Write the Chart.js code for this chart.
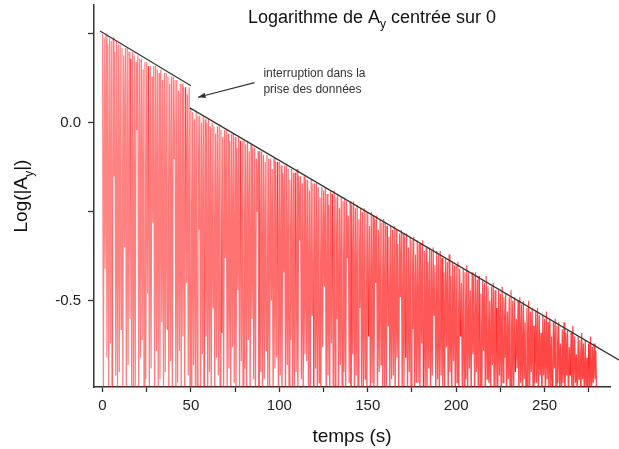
<!DOCTYPE html>
<html>
<head>
<meta charset="utf-8">
<script src="https://cdn.jsdelivr.net/npm/chart.js@4.4.1/dist/chart.umd.min.js"></script>
<style>
  body { margin: 0; background: #fff; }
  #box { width: 619px; height: 449px; position: relative; }
</style>
</head>
<body>
<div id="box"><canvas id="logChart"></canvas></div>
<script>
// sampling: one peak per second, the trough half a second later
const pasTemps = 1;

// log|Ay| at the top of each oscillation
const pics = [
  0.25, 0.24, 0.25, 0.22, 0.24, 0.23, 0.24, 0.20, 0.23, 0.22,
  0.22, 0.21, 0.19, 0.21, 0.21, 0.20, 0.18, 0.20, 0.19, 0.17,
  0.19, 0.18, 0.18, 0.15, 0.17, 0.17, 0.16, 0.16, 0.13, 0.16,
  0.16, 0.15, 0.14, 0.15, 0.12, 0.14, 0.14, 0.13, 0.11, 0.13,
  0.13, 0.12, 0.12, 0.09, 0.11, 0.11, 0.10, 0.10, 0.08, 0.10,
  0.04, 0.03, 0.01, 0.03, 0.02, 0.02, 0.00, 0.02, 0.01, 0.00,
  0.01, -0.01, 0.00, -0.01, -0.03, -0.01, -0.01, -0.02, -0.04, -0.02,
  -0.02, -0.03, -0.05, -0.03, -0.03, -0.04, -0.07, -0.04, -0.05, -0.05,
  -0.05, -0.06, -0.05, -0.08, -0.06, -0.07, -0.07, -0.10, -0.08, -0.08,
  -0.08, -0.09, -0.11, -0.09, -0.10, -0.10, -0.13, -0.10, -0.11, -0.11,
  -0.11, -0.12, -0.14, -0.12, -0.12, -0.13, -0.16, -0.13, -0.14, -0.14,
  -0.13, -0.15, -0.15, -0.17, -0.15, -0.16, -0.16, -0.19, -0.16, -0.17,
  -0.17, -0.17, -0.18, -0.21, -0.18, -0.19, -0.18, -0.20, -0.23, -0.19,
  -0.20, -0.19, -0.21, -0.20, -0.24, -0.21, -0.22, -0.21, -0.22, -0.26,
  -0.22, -0.23, -0.22, -0.24, -0.23, -0.27, -0.24, -0.25, -0.24, -0.25,
  -0.25, -0.29, -0.25, -0.26, -0.27, -0.26, -0.30, -0.27, -0.28, -0.27,
  -0.28, -0.29, -0.32, -0.29, -0.30, -0.29, -0.30, -0.34, -0.31, -0.30,
  -0.31, -0.32, -0.31, -0.35, -0.32, -0.33, -0.32, -0.37, -0.33, -0.34,
  -0.34, -0.33, -0.36, -0.35, -0.39, -0.35, -0.36, -0.35, -0.40, -0.36,
  -0.37, -0.36, -0.38, -0.42, -0.38, -0.39, -0.37, -0.43, -0.39, -0.40,
  -0.40, -0.39, -0.41, -0.45, -0.41, -0.42, -0.40, -0.42, -0.47, -0.42,
  -0.43, -0.42, -0.44, -0.43, -0.48, -0.44, -0.45, -0.43, -0.46, -0.50,
  -0.46, -0.45, -0.47, -0.52, -0.47, -0.48, -0.46, -0.49, -0.48, -0.53,
  -0.49, -0.47, -0.50, -0.49, -0.55, -0.50, -0.49, -0.51, -0.50, -0.56,
  -0.52, -0.50, -0.53, -0.52, -0.57, -0.53, -0.52, -0.54, -0.59, -0.54,
  -0.55, -0.53, -0.56, -0.55, -0.60, -0.56, -0.55, -0.57, -0.56, -0.62,
  -0.58, -0.56, -0.59, -0.58, -0.63, -0.59, -0.57, -0.60, -0.65, -0.60,
  -0.61, -0.59, -0.62, -0.61, -0.66, -0.62, -0.60, -0.63, -0.62, -0.64
];

// log|Ay| at the bottom of each oscillation (-0.80 = below the axis)
const creux = [
  -0.80, -0.41, -0.66, -0.80, -0.62, -0.80, -0.15, -0.71, -0.80, -0.70,
  -0.58, -0.80, -0.35, -0.80, -0.68, -0.55, -0.80, -0.74, -0.80, -0.02,
  -0.80, -0.66, -0.61, -0.80, -0.72, -0.48, -0.80, -0.69, -0.28, -0.80,
  -0.64, -0.80, -0.72, -0.56, -0.80, -0.70, -0.58, -0.80, -0.67, -0.80,
  -0.10, -0.80, -0.73, -0.64, -0.80, -0.60, -0.80, -0.45, -0.71, -0.80,
  -0.80, -0.68, -0.74, -0.80, -0.30, -0.80, -0.65, -0.80, -0.60, -0.80,
  -0.70, -0.80, -0.52, -0.80, -0.66, -0.71, -0.80, -0.59, -0.80, -0.38,
  -0.80, -0.69, -0.80, -0.63, -0.73, -0.80, -0.47, -0.80, -0.67, -0.80,
  -0.69, -0.80, -0.61, -0.80, -0.55, -0.72, -0.80, -0.25, -0.80, -0.70,
  -0.80, -0.72, -0.64, -0.80, -0.74, -0.50, -0.80, -0.69, -0.66, -0.80,
  -0.71, -0.80, -0.42, -0.80, -0.68, -0.80, -0.61, -0.74, -0.80, -0.70,
  -0.80, -0.33, -0.72, -0.80, -0.65, -0.67, -0.80, -0.80, -0.54, -0.80,
  -0.69, -0.80, -0.73, -0.80, -0.63, -0.46, -0.80, -0.71, -0.80, -0.62,
  -0.80, -0.74, -0.55, -0.80, -0.68, -0.80, -0.70, -0.80, -0.38, -0.73,
  -0.80, -0.65, -0.80, -0.71, -0.80, -0.52, -0.74, -0.80, -0.72, -0.80,
  -0.60, -0.80, -0.73, -0.80, -0.45, -0.80, -0.70, -0.68, -0.80, -0.74,
  -0.80, -0.57, -0.80, -0.72, -0.71, -0.80, -0.66, -0.80, -0.49, -0.80,
  -0.74, -0.66, -0.80, -0.70, -0.80, -0.58, -0.80, -0.73, -0.73, -0.80,
  -0.62, -0.80, -0.74, -0.80, -0.69, -0.80, -0.71, -0.54, -0.80, -0.72,
  -0.80, -0.71, -0.80, -0.74, -0.63, -0.80, -0.70, -0.80, -0.67, -0.80,
  -0.73, -0.80, -0.60, -0.80, -0.74, -0.72, -0.80, -0.69, -0.80, -0.65,
  -0.80, -0.70, -0.80, -0.74, -0.80, -0.64, -0.80, -0.72, -0.73, -0.80,
  -0.68, -0.80, -0.74, -0.80, -0.71, -0.80, -0.73, -0.66, -0.80, -0.72,
  -0.80, -0.74, -0.80, -0.70, -0.69, -0.80, -0.73, -0.80, -0.72, -0.80,
  -0.74, -0.80, -0.70, -0.80, -0.73, -0.73, -0.80, -0.71, -0.80, -0.71,
  -0.80, -0.72, -0.80, -0.74, -0.80, -0.69, -0.80, -0.73, -0.74, -0.80,
  -0.73, -0.80, -0.71, -0.80, -0.71, -0.80, -0.74, -0.73, -0.80, -0.72,
  -0.80, -0.72, -0.80, -0.74, -0.80, -0.74, -0.80, -0.73, -0.72, -0.80
];

// fitted decay lines, before and after the interruption
const droiteAvant = [{ x: -1.4, y: 0.258 }, { x: 50, y: 0.104 }];
const droiteApres = [{ x: 49.4, y: 0.042 }, { x: 292, y: -0.666 }];

// axis ticks
const xTicks = [0, 25, 50, 75, 100, 125, 150, 175, 200, 225, 250, 275];
const xTickLabels = ['0', '', '50', '', '100', '', '150', '', '200', '', '250', ''];
const yTicks = [0.25, 0, -0.25, -0.5];
const yTickLabels = ['', '0.0', '', '-0.5'];

// note about the gap in the recording
const noteLignes = ['interruption dans la', 'prise des données'];
const notePos = [91, 0.138, 0.093];
const flecheDe = [86, 0.113];
const flecheA = [54, 0.072];

const police = "'Liberation Sans', Arial, sans-serif";

const signal = [];
pics.forEach((p, i) => {
  signal.push({ x: i * pasTemps, y: p });
  signal.push({ x: i * pasTemps + pasTemps / 2, y: creux[i] });
});

// draws text made of normal and subscript pieces, centred on x
function texteIndice(ctx, parts, x, y, size) {
  const small = Math.round(size * 0.65);
  let total = 0;
  parts.forEach(([t, sub]) => {
    ctx.font = (sub ? small : size) + 'px ' + police;
    total += ctx.measureText(t).width;
  });
  let cx = x - total / 2;
  ctx.textAlign = 'left';
  ctx.textBaseline = 'alphabetic';
  parts.forEach(([t, sub]) => {
    ctx.font = (sub ? small : size) + 'px ' + police;
    ctx.fillText(t, cx, sub ? y + size * 0.3 : y);
    cx += ctx.measureText(t).width;
  });
}

const textes = {
  id: 'textes',
  afterDraw(chart) {
    const { ctx, chartArea, scales: { x, y } } = chart;
    ctx.save();
    ctx.fillStyle = '#111';

    texteIndice(ctx, [['Logarithme de A', false], ['y', true], [' centrée sur 0', false]], 372, 23, 18);

    ctx.font = '19px ' + police;
    ctx.textAlign = 'center';
    ctx.textBaseline = 'middle';
    ctx.fillText('temps (s)', (chartArea.left + chartArea.right) / 2, 437);

    ctx.save();
    ctx.translate(27, 196);
    ctx.rotate(-Math.PI / 2);
    texteIndice(ctx, [['Log(|A', false], ['y', true], ['|)', false]], 0, 0, 19);
    ctx.restore();

    // annotation
    ctx.fillStyle = '#333';
    ctx.font = '12px ' + police;
    ctx.textAlign = 'left';
    ctx.textBaseline = 'middle';
    const nx = x.getPixelForValue(notePos[0]);
    ctx.fillText(noteLignes[0], nx, y.getPixelForValue(notePos[1]));
    ctx.fillText(noteLignes[1], nx, y.getPixelForValue(notePos[2]));

    const x1 = x.getPixelForValue(flecheDe[0]), y1 = y.getPixelForValue(flecheDe[1]);
    const x2 = x.getPixelForValue(flecheA[0]), y2 = y.getPixelForValue(flecheA[1]);
    ctx.strokeStyle = '#333';
    ctx.lineWidth = 1.2;
    ctx.beginPath();
    ctx.moveTo(x1, y1);
    ctx.lineTo(x2, y2);
    ctx.stroke();
    const a = Math.atan2(y2 - y1, x2 - x1);
    ctx.beginPath();
    ctx.moveTo(x2, y2);
    ctx.lineTo(x2 - 8 * Math.cos(a - 0.35), y2 - 8 * Math.sin(a - 0.35));
    ctx.lineTo(x2 - 8 * Math.cos(a + 0.35), y2 - 8 * Math.sin(a + 0.35));
    ctx.closePath();
    ctx.fillStyle = '#333';
    ctx.fill();
    ctx.restore();
  }
};

const tickFont = { family: police, size: 15 };

new Chart(document.getElementById('logChart'), {
  type: 'line',
  data: {
    datasets: [
      {
        data: signal,
        borderWidth: 1.2,
        borderColor: 'rgba(255, 0, 0, 0.55)',
        segment: {
          borderColor: c => 'rgba(255, 0, 0, ' + (0.48 + 0.27 * c.p0.parsed.x / 280).toFixed(2) + ')'
        },
        pointRadius: 0,
        tension: 0,
        order: 2
      },
      {
        data: droiteAvant,
        borderColor: '#333',
        borderWidth: 1.2,
        pointRadius: 0,
        clip: false,
        order: 1
      },
      {
        data: droiteApres,
        borderColor: '#333',
        borderWidth: 1.2,
        pointRadius: 0,
        clip: false,
        order: 1
      }
    ]
  },
  options: {
    responsive: true,
    maintainAspectRatio: false,
    animation: false,
    layout: { padding: { top: 5, right: 9, left: 0, bottom: 0 } },
    plugins: {
      legend: { display: false },
      tooltip: { enabled: false }
    },
    scales: {
      x: {
        type: 'linear',
        min: -4.8,
        max: 287,
        afterBuildTicks: s => { s.ticks = xTicks.map(v => ({ value: v })); },
        afterFit: s => { s.height = 62; s.paddingLeft = 0; s.paddingRight = 0; },
        border: { color: '#333', width: 1.5 },
        grid: { drawOnChartArea: false, tickLength: 5, color: '#333', tickWidth: 1.3 },
        ticks: {
          callback: (v, i) => xTickLabels[i],
          autoSkip: false,
          maxRotation: 0,
          padding: 5,
          color: '#222',
          font: tickFont
        }
      },
      y: {
        type: 'linear',
        min: -0.742,
        max: 0.331,
        afterBuildTicks: s => { s.ticks = yTicks.map(v => ({ value: v })); },
        afterFit: s => { s.width = 94; s.paddingTop = 0; s.paddingBottom = 0; },
        border: { color: '#333', width: 1.5 },
        grid: { drawOnChartArea: false, tickLength: 6, color: '#333', tickWidth: 1.3 },
        ticks: {
          callback: (v, i) => yTickLabels[i],
          padding: 7,
          color: '#222',
          font: tickFont
        }
      }
    }
  },
  plugins: [textes]
});
</script>
</body>
</html>
